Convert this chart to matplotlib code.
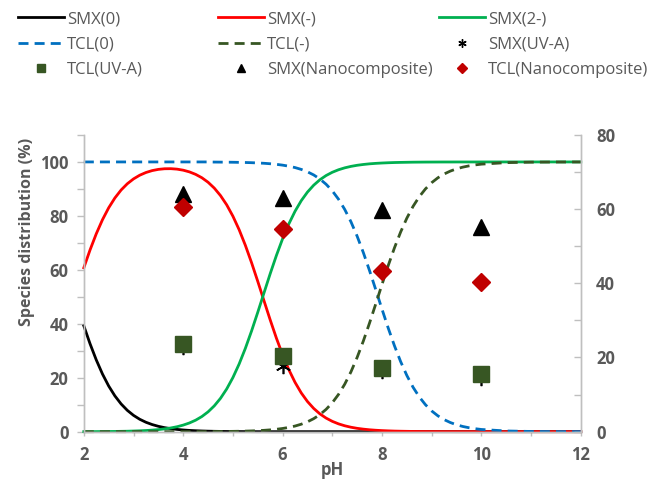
import matplotlib

matplotlib.use("Agg")

import matplotlib.pyplot as plt
from matplotlib.lines import Line2D
from matplotlib.ticker import MultipleLocator

plt.rcParams["font.family"] = ["Open Sans", "DejaVu Sans"]

# speciation curves (left axis, %), one row = one pH unit
ph_curve = [2.0, 2.125, 2.25, 2.375, 2.5, 2.625, 2.75, 2.875,
            3.0, 3.125, 3.25, 3.375, 3.5, 3.625, 3.75, 3.875,
            4.0, 4.125, 4.25, 4.375, 4.5, 4.625, 4.75, 4.875,
            5.0, 5.125, 5.25, 5.375, 5.5, 5.625, 5.75, 5.875,
            6.0, 6.125, 6.25, 6.375, 6.5, 6.625, 6.75, 6.875,
            7.0, 7.125, 7.25, 7.375, 7.5, 7.625, 7.75, 7.875,
            8.0, 8.125, 8.25, 8.375, 8.5, 8.625, 8.75, 8.875,
            9.0, 9.125, 9.25, 9.375, 9.5, 9.625, 9.75, 9.875,
            10.0, 10.5, 11.0, 11.5, 12.0]
smx_0 = [39.23, 32.61, 26.63, 21.39, 16.94, 13.27, 10.29, 7.91,
         6.05, 4.60, 3.49, 2.64, 1.99, 1.49, 1.12, 0.84,
         0.63, 0.47, 0.35, 0.26, 0.19, 0.14, 0.10, 0.07,
         0.05, 0.04, 0.03, 0.02, 0.01, 0.01, 0, 0,
         0, 0, 0, 0, 0, 0, 0, 0,
         0, 0, 0, 0, 0, 0, 0, 0,
         0, 0, 0, 0, 0, 0, 0, 0,
         0, 0, 0, 0, 0, 0, 0, 0,
         0, 0, 0, 0, 0]
smx_minus = [60.76, 67.36, 73.34, 78.56, 82.99, 86.64, 89.59, 91.91,
             93.71, 95.08, 96.08, 96.79, 97.24, 97.47, 97.50, 97.33,
             96.94, 96.31, 95.39, 94.14, 92.47, 90.30, 87.53, 84.09,
             79.88, 74.88, 69.11, 62.66, 55.72, 48.56, 41.45, 34.68,
             28.47, 22.99, 18.29, 14.37, 11.18, 8.63, 6.61, 5.04,
             3.83, 2.90, 2.19, 1.65, 1.24, 0.94, 0.70, 0.53,
             0.40, 0.30, 0.22, 0.17, 0.13, 0.09, 0.07, 0.05,
             0.04, 0.03, 0.02, 0.02, 0.01, 0.01, 0.01, 0.01,
             0, 0, 0, 0, 0]
smx_2minus = [0.02, 0.02, 0.03, 0.05, 0.07, 0.09, 0.13, 0.17,
              0.24, 0.32, 0.43, 0.58, 0.77, 1.03, 1.38, 1.83,
              2.44, 3.23, 4.26, 5.61, 7.35, 9.57, 12.36, 15.84,
              20.07, 25.08, 30.87, 37.32, 44.26, 51.43, 58.55, 65.32,
              71.53, 77.01, 81.71, 85.63, 88.82, 91.37, 93.39, 94.96,
              96.17, 97.10, 97.81, 98.35, 98.76, 99.06, 99.30, 99.47,
              99.60, 99.70, 99.78, 99.83, 99.87, 99.91, 99.93, 99.95,
              99.96, 99.97, 99.98, 99.98, 99.99, 99.99, 99.99, 99.99,
              100, 100, 100, 100, 100]
tcl_0 = [100, 100, 100, 100, 100, 100, 100, 100,
         100, 100, 100, 100, 100, 100, 100, 100,
         100, 100, 100, 100, 100, 99.95, 99.93, 99.91,
         99.88, 99.84, 99.79, 99.72, 99.62, 99.50, 99.33, 99.11,
         98.81, 98.42, 97.91, 97.23, 96.34, 95.18, 93.67, 91.73,
         89.27, 86.18, 82.39, 77.82, 72.45, 66.36, 59.66, 52.59,
         45.41, 38.41, 31.87, 25.97, 20.83, 16.47, 12.89, 9.98,
         7.68, 5.87, 4.47, 3.39, 2.56, 1.93, 1.46, 1.10,
         0.82, 0.26, 0.08, 0.03, 0.01]
tcl_minus = [0, 0, 0, 0, 0, 0, 0, 0,
             0, 0, 0, 0, 0, 0, 0, 0,
             0, 0, 0, 0, 0, 0.05, 0.07, 0.09,
             0.12, 0.16, 0.21, 0.28, 0.38, 0.50, 0.67, 0.89,
             1.19, 1.58, 2.09, 2.77, 3.66, 4.82, 6.33, 8.27,
             10.73, 13.82, 17.61, 22.18, 27.55, 33.64, 40.34, 47.41,
             54.59, 61.59, 68.13, 74.03, 79.17, 83.53, 87.11, 90.02,
             92.32, 94.13, 95.53, 96.61, 97.44, 98.07, 98.54, 98.90,
             99.18, 99.74, 99.92, 99.97, 99.99]

# measured points (right axis)
ph_points = [4, 6, 8, 10]
smx_uva = [22.9, 17.7, 16.4, 14.5]
tcl_uva = [23.7, 20.4, 17.1, 15.6]
smx_nano = [64.1, 62.9, 59.8, 55.2]
tcl_nano = [60.6, 54.6, 43.3, 40.4]

GRAY = "#595959"
SPINE = "#BFBFBF"
DARK_GREEN = "#375623"
ASTERISK = (6, 2, 0)
dash = (3.6, 2.2)

fig = plt.figure(figsize=(6.6, 4.82), dpi=100)
ax = fig.add_axes([0.127, 0.1044, 0.753, 0.6156])
ax2 = ax.twinx()

lw = 2.0
ax.plot(ph_curve, smx_0, color="black", lw=lw, clip_on=False)
ax.plot(ph_curve, smx_minus, color="#FF0000", lw=lw, clip_on=False)
ax.plot(ph_curve, smx_2minus, color="#00B050", lw=lw, clip_on=False)
ax.plot(ph_curve, tcl_0, color="#0070C0", lw=lw, dashes=dash, clip_on=False)
ax.plot(ph_curve, tcl_minus, color=DARK_GREEN, lw=lw, dashes=dash, clip_on=False)

ax2.plot(ph_points, smx_uva, ls="none", marker=ASTERISK, ms=11, mew=1.2, color="black")
ax2.plot(ph_points, tcl_uva, ls="none", marker="s", ms=11, color=DARK_GREEN, mec=DARK_GREEN)
ax2.plot(ph_points, smx_nano, ls="none", marker="^", ms=11, color="black")
ax2.plot(ph_points, tcl_nano, ls="none", marker="D", ms=9, color="#C00000")

ax.set_xlim(2, 12)
ax.set_ylim(0, 110)
ax2.set_ylim(0, 80)

ax.xaxis.set_major_locator(MultipleLocator(2))
ax.xaxis.set_minor_locator(MultipleLocator(1))
ax.yaxis.set_major_locator(MultipleLocator(20))
ax.yaxis.set_minor_locator(MultipleLocator(10))
ax2.yaxis.set_major_locator(MultipleLocator(20))
ax2.yaxis.set_minor_locator(MultipleLocator(10))

for a in (ax, ax2):
    a.spines["top"].set_visible(False)
    for side in ("left", "right", "bottom"):
        a.spines[side].set_color(SPINE)
        a.spines[side].set_linewidth(1.0)

ax.tick_params(axis="x", which="both", direction="out", length=3, width=1, color=SPINE,
               labelsize=12, labelcolor=GRAY, pad=7)
ax.tick_params(axis="y", which="both", direction="out", length=5, width=1, color=SPINE,
               labelsize=12, labelcolor=GRAY, pad=6)
ax2.tick_params(axis="y", which="both", direction="in", length=5, width=1, color=SPINE,
                labelsize=12, labelcolor=GRAY, pad=11)
for lab in ax.get_xticklabels() + ax.get_yticklabels() + ax2.get_yticklabels():
    lab.set_fontweight("bold")

fig.text(27 / 660, 1 - 232 / 482, "Species distribution (%)", rotation=90, ha="center",
         va="center", fontsize=11.5, fontweight="bold", color=GRAY)
fig.text(332 / 660, 1 - 470 / 482, "pH", ha="center", va="center", fontsize=12,
         fontweight="bold", color=GRAY)

# legend, three fixed-width columns like the Excel original
h_smx0 = Line2D([], [], color="black", lw=lw)
h_smxm = Line2D([], [], color="#FF0000", lw=lw)
h_smx2 = Line2D([], [], color="#00B050", lw=lw)
h_tcl0 = Line2D([], [], color="#0070C0", lw=lw, dashes=dash)
h_tclm = Line2D([], [], color=DARK_GREEN, lw=lw, dashes=dash)
h_smxuva = Line2D([], [], ls="none", marker=ASTERISK, ms=6, mew=1, color="black")
h_tcluva = Line2D([], [], ls="none", marker="s", ms=6, color=DARK_GREEN)
h_smxnano = Line2D([], [], ls="none", marker="^", ms=6, color="black")
h_tclnano = Line2D([], [], ls="none", marker="D", ms=5.5, color="#C00000")

columns = [
    (18, [h_smx0, h_tcl0, h_tcluva], ["SMX(0)", "TCL(0)", "TCL(UV-A)"]),
    (218, [h_smxm, h_tclm, h_smxnano], ["SMX(-)", "TCL(-)", "SMX(Nanocomposite)"]),
    (439, [h_smx2, h_smxuva, h_tclnano], ["SMX(2-)", "SMX(UV-A)", "TCL(Nanocomposite)"]),
]
for x0, handles, labels in columns:
    fig.legend(handles, labels, loc="upper left", bbox_to_anchor=(x0 / 660, 1 - 11 / 482),
               frameon=False, borderpad=0, borderaxespad=0, handlelength=2.75,
               handletextpad=0.18, labelspacing=0.57, fontsize=12, labelcolor=GRAY)

fig.savefig("out.png", dpi=100)
